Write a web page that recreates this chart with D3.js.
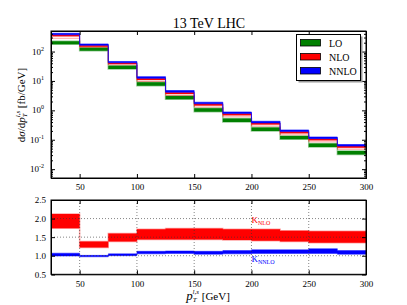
<!DOCTYPE html>
<html>
<head>
<meta charset="utf-8">
<script src="https://cdn.jsdelivr.net/npm/d3@7"></script>
<style>
  body { margin: 0; background: #fff; }
  text { font-family: "Liberation Serif", "DejaVu Serif", serif; }
</style>
</head>
<body>
<div class="chart"></div>
<script>
// bin lower edges (GeV), last bin ends at 300
const bins = [25, 50, 75, 100, 125, 150, 175, 200, 225, 250, 275];
const binEnd = 300;

// top panel: d sigma / d pT [fb/GeV]
const loLow    = [177, 107, 25.5, 6.89, 2.38, 0.90, 0.402, 0.199, 0.1035, 0.0566, 0.0315];
const loHigh   = [223, 135, 33.0, 8.99, 3.08, 1.17, 0.524, 0.259, 0.135, 0.0740, 0.0411];
const nloMin   = [282, 140, 35.4, 9.57, 3.20, 1.30, 0.604, 0.291, 0.147, 0.0851, 0.0473];
const nloLow   = [330, 147, 37.7, 10.8, 3.60, 1.46, 0.679, 0.327, 0.166, 0.0958, 0.0532];
const nloHigh  = [371, 163, 41.4, 12.3, 4.14, 1.67, 0.775, 0.374, 0.189, 0.109, 0.0608];
const nnloHigh = [418, 181, 45.9, 13.96, 4.73, 1.89, 0.879, 0.425, 0.215, 0.124, 0.0689];

// bottom panel: K factors
const kNloLow   = [1.74, 1.22, 1.38, 1.44, 1.44, 1.44, 1.42, 1.40, 1.38, 1.35, 1.35];
const kNloHigh  = [2.12, 1.38, 1.60, 1.71, 1.73, 1.73, 1.71, 1.71, 1.67, 1.66, 1.66];
const kNnloLow  = [0.99, 0.97, 1.00, 1.05, 1.06, 1.04, 1.05, 1.06, 1.06, 1.06, 1.04];
const kNnloHigh = [1.07, 1.01, 1.05, 1.12, 1.13, 1.12, 1.14, 1.16, 1.16, 1.19, 1.14];

const xTicks = [50, 100, 150, 200, 250, 300];
const yTicksTop = [-2, -1, 0, 1, 2];
const yTicksBottom = [0.5, 1.0, 1.5, 2.0, 2.5];
const legendItems = [["LO", "#008000"], ["NLO", "#ff0000"], ["NNLO", "#0000ff"]];

const width = 407, height = 305;
const svg = d3.select('.chart').append('svg')
    .attr('width', width).attr('height', height);

const left = 51, right = 366;
const top1 = 31, bot1 = 178;
const top2 = 200, bot2 = 274.3;

const x = d3.scaleLinear().domain([25, 300]).range([left, right]);
const y1 = d3.scaleLog().domain([0.005, 500]).range([bot1, top1]);
const y2 = d3.scaleLinear().domain([0.5, 2.5]).range([bot2, top2]);

function steps(lo, hi) {
    const pts = bins.map((b, i) => ({x: b, lo: lo[i], hi: hi[i]}));
    pts.push({x: binEnd, lo: lo[lo.length - 1], hi: hi[hi.length - 1]});
    return pts;
}

svg.append('clipPath').attr('id', 'clip1').append('rect')
    .attr('x', left).attr('y', top1).attr('width', right - left).attr('height', bot1 - top1);
svg.append('clipPath').attr('id', 'clip2').append('rect')
    .attr('x', left).attr('y', top2).attr('width', right - left).attr('height', bot2 - top2);

// ---- top panel bands
const area1 = d3.area().x(d => x(d.x)).y0(d => y1(d.lo)).y1(d => y1(d.hi)).curve(d3.curveStepAfter);
const line1 = d3.line().x(d => x(d.x)).y(d => y1(d.lo)).curve(d3.curveStepAfter);
const g1 = svg.append('g').attr('clip-path', 'url(#clip1)');

g1.append('path').datum(steps(loLow, loHigh))
    .attr('d', area1).attr('fill', '#008000')
    .attr('stroke', '#008000').attr('stroke-opacity', 0.4).attr('stroke-width', 1.5);
g1.append('path').datum(steps(nloMin, nloMin))
    .attr('d', line1).attr('fill', 'none')
    .attr('stroke', '#ff0000').attr('stroke-opacity', 0.35).attr('stroke-width', 1);
g1.append('path').datum(steps(nloLow, nloHigh))
    .attr('d', area1).attr('fill', '#ff0000')
    .attr('stroke', '#ff0000').attr('stroke-opacity', 0.4).attr('stroke-width', 1);
g1.append('path').datum(steps(nloHigh, nnloHigh))
    .attr('d', area1).attr('fill', '#0000ff')
    .attr('stroke', '#0000ff').attr('stroke-opacity', 0.6).attr('stroke-width', 1);

// ---- bottom panel bands
const area2 = d3.area().x(d => x(d.x)).y0(d => y2(d.lo)).y1(d => y2(d.hi)).curve(d3.curveStepAfter);
const g2 = svg.append('g').attr('clip-path', 'url(#clip2)');
g2.append('path').datum(steps(kNloLow, kNloHigh))
    .attr('d', area2).attr('fill', '#ff0000')
    .attr('stroke', '#ff0000').attr('stroke-opacity', 0.35).attr('stroke-width', 1.5);
g2.append('path').datum(steps(kNnloLow, kNnloHigh))
    .attr('d', area2).attr('fill', '#0000ff')
    .attr('stroke', '#0000ff').attr('stroke-opacity', 0.4).attr('stroke-width', 1);

// dotted grid in ratio panel
g2.selectAll('.hgrid').data(yTicksBottom.slice(1, 4)).enter().append('line')
    .attr('x1', left).attr('x2', right)
    .attr('y1', d => y2(d)).attr('y2', d => y2(d))
    .attr('stroke', '#333').attr('stroke-opacity', 0.6)
    .attr('stroke-width', 1).attr('stroke-dasharray', '1,2');
g2.selectAll('.vgrid').data(xTicks.slice(0, 5)).enter().append('line')
    .attr('x1', d => x(d)).attr('x2', d => x(d))
    .attr('y1', top2).attr('y2', bot2)
    .attr('stroke', '#333').attr('stroke-opacity', 0.6)
    .attr('stroke-width', 1).attr('stroke-dasharray', '1,2');

// ---- axes (inward ticks on all sides)
function xAxes(top, bot) {
    svg.append('g').attr('transform', `translate(0,${bot})`)
        .call(d3.axisBottom(x).tickValues(xTicks).tickSize(-4).tickPadding(6).tickFormat(d3.format('d')));
    svg.append('g').attr('transform', `translate(0,${top})`)
        .call(d3.axisTop(x).tickValues(xTicks).tickSize(-4).tickFormat(''));
}
xAxes(top1, bot1);
xAxes(top2, bot2);

const minor = [];
for (let e = -3; e <= 2; e++) for (let m = 2; m <= 9; m++) {
    const v = m * Math.pow(10, e);
    if (v >= 0.005 && v <= 500) minor.push(v);
}
const majors = yTicksTop.map(e => Math.pow(10, e));
svg.append('g').attr('transform', `translate(${left},0)`)
    .call(d3.axisLeft(y1).tickValues(minor).tickSize(-2).tickFormat(''));
svg.append('g').attr('transform', `translate(${right},0)`)
    .call(d3.axisRight(y1).tickValues(minor).tickSize(-2).tickFormat(''));
svg.append('g').attr('transform', `translate(${left},0)`)
    .call(d3.axisLeft(y1).tickValues(majors).tickSize(-4).tickFormat(''));
svg.append('g').attr('transform', `translate(${right},0)`)
    .call(d3.axisRight(y1).tickValues(majors).tickSize(-4).tickFormat(''));

svg.append('g').attr('transform', `translate(${left},0)`)
    .call(d3.axisLeft(y2).tickValues(yTicksBottom).tickSize(-4).tickPadding(5).tickFormat(d3.format('.1f')));
svg.append('g').attr('transform', `translate(${right},0)`)
    .call(d3.axisRight(y2).tickValues(yTicksBottom).tickSize(-4).tickFormat(''));

svg.selectAll('.domain').attr('stroke', '#000').attr('stroke-width', 1);
svg.selectAll('.tick line').attr('stroke', '#000');
svg.selectAll('.tick text').attr('font-size', 9)
    .attr('font-family', '"Liberation Serif", serif').attr('fill', '#000');

// log tick labels 10^n
const yl = svg.append('g');
yTicksTop.forEach(e => {
    const t = yl.append('text').attr('x', 44).attr('y', y1(Math.pow(10, e)) + 3)
        .attr('text-anchor', 'end').attr('font-size', 9);
    t.append('tspan').text('10');
    t.append('tspan').attr('dy', -4).attr('font-size', 6).text(e);
});

// frames
[[top1, bot1], [top2, bot2]].forEach(([t, b]) => {
    svg.append('rect').attr('x', left).attr('y', t).attr('width', right - left).attr('height', b - t)
        .attr('fill', 'none').attr('stroke', '#000').attr('stroke-width', 1);
});

// title
svg.append('text').attr('x', 209).attr('y', 28).attr('text-anchor', 'middle')
    .attr('font-size', 14).text('13 TeV LHC');

// legend
const lg = svg.append('g');
lg.append('rect').attr('x', 298.5).attr('y', 36.5).attr('width', 64).attr('height', 46).attr('fill', '#999');
lg.append('rect').attr('x', 296.5).attr('y', 34.5).attr('width', 64).attr('height', 46)
    .attr('fill', '#fff').attr('stroke', '#000').attr('stroke-width', 1);
legendItems.forEach(([name, col], i) => {
    const cy = 43 + i * 14;
    lg.append('rect').attr('x', 300.5).attr('y', cy - 3.5).attr('width', 20).attr('height', 6.5)
        .attr('fill', col).attr('stroke', '#000').attr('stroke-width', 0.8);
    lg.append('text').attr('x', 329).attr('y', cy + 3.5).attr('font-size', 10).text(name);
});

// K labels
function kLabel(xv, yv, sub, col) {
    const t = svg.append('text').attr('x', x(xv)).attr('y', y2(yv)).attr('fill', col).attr('font-size', 9);
    t.append('tspan').text('K');
    t.append('tspan').attr('dy', 2).attr('font-size', 6).text(sub);
}
kLabel(200, 1.87, 'NLO', '#ff0000');
kLabel(200, 0.82, 'NNLO', '#0000ff');

// x label
const xl = svg.append('text').attr('x', 208).attr('y', 300).attr('text-anchor', 'middle').attr('font-size', 11);
xl.append('tspan').attr('font-style', 'italic').attr('font-size', 13).text('p');
xl.append('tspan').attr('font-style', 'italic').attr('font-size', 7).attr('dy', 2).text('T');
xl.append('tspan').attr('font-style', 'italic').attr('font-size', 7).attr('dx', -4).attr('dy', -8).text('l,s');
xl.append('tspan').attr('dy', 6).text(' [GeV]');

// y label
const ylab = svg.append('text').attr('transform', 'translate(25,105) rotate(-90)')
    .attr('text-anchor', 'middle').attr('font-size', 11);
ylab.append('tspan').text('d');
ylab.append('tspan').attr('font-style', 'italic').text('σ');
ylab.append('tspan').text('/d');
ylab.append('tspan').attr('font-style', 'italic').text('p');
ylab.append('tspan').attr('font-style', 'italic').attr('font-size', 7).attr('dy', 2).text('T');
ylab.append('tspan').attr('font-style', 'italic').attr('font-size', 7).attr('dx', -4).attr('dy', -7).text('l,s');
ylab.append('tspan').attr('dy', 5).text(' [fb/GeV]');
</script>
</body>
</html>
